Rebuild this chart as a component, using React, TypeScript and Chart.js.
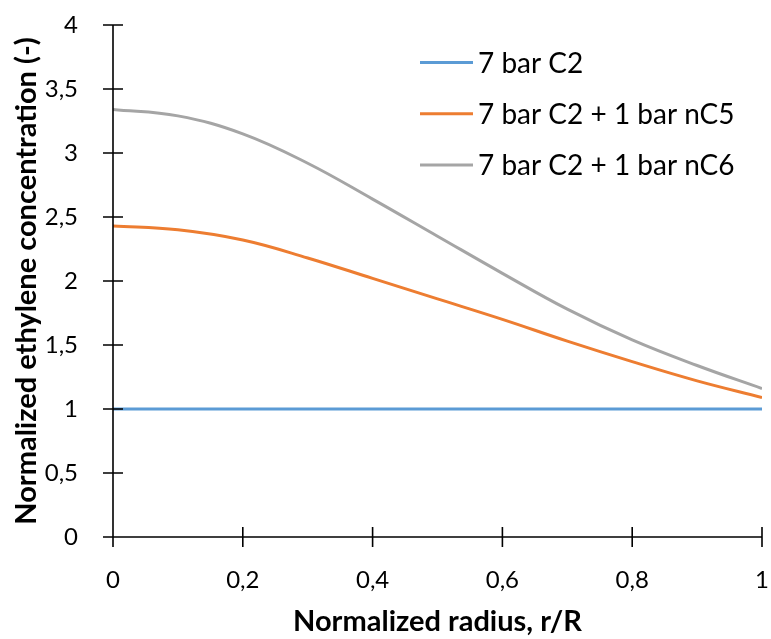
import React, { useEffect, useRef } from "react";
import { Chart, registerables } from "chart.js";

Chart.register(...registerables);

const radius = [0, 0.1, 0.2, 0.3, 0.4, 0.5, 0.6, 0.7, 0.8, 0.9, 1.0];
const c2 = [1, 1, 1, 1, 1, 1, 1, 1, 1, 1, 1];
const c2nc5 = [2.43, 2.40, 2.32, 2.18, 2.02, 1.86, 1.70, 1.53, 1.37, 1.22, 1.09];
const c2nc6 = [3.34, 3.29, 3.15, 2.92, 2.64, 2.35, 2.06, 1.78, 1.54, 1.34, 1.16];
const seriesLabels = ["7 bar C2", "7 bar C2 + 1 bar nC5", "7 bar C2 + 1 bar nC6"];
const seriesColors = ["#5B9BD5", "#ED7D31", "#A5A5A5"];
const xTitle = "Normalized radius, r/R";
const yTitle = "Normalized ethylene concentration (-)";

const FONT = "Lato, 'Open Sans', sans-serif";

const fmt = (v: number) => String(Number(Number(v).toFixed(1))).replace(".", ",");

const axisPlugin = {
  id: "crossAxes",
  afterDatasetsDraw(chart: any) {
    const ctx = chart.ctx;
    const xs = chart.scales.x;
    const ys = chart.scales.y;
    const area = chart.chartArea;
    ctx.save();
    ctx.strokeStyle = "#000";
    ctx.lineWidth = 1.6;
    ctx.beginPath();
    ctx.moveTo(area.left, area.top);
    ctx.lineTo(area.left, area.bottom);
    ctx.moveTo(area.left - 10, area.bottom);
    ctx.lineTo(area.right, area.bottom);
    ys.ticks.forEach((_t: any, i: number) => {
      const p = ys.getPixelForTick(i);
      ctx.moveTo(area.left - 10, p);
      ctx.lineTo(area.left + 10, p);
    });
    xs.ticks.forEach((_t: any, i: number) => {
      const p = xs.getPixelForTick(i);
      ctx.moveTo(p, area.bottom - 10);
      ctx.lineTo(p, area.bottom + 10);
    });
    ctx.stroke();
    ctx.restore();
  },
};

const legendPlugin = {
  id: "insideLegend",
  afterDraw(chart: any) {
    const ctx = chart.ctx;
    ctx.save();
    ctx.font = `28px ${FONT}`;
    ctx.textBaseline = "middle";
    ctx.fillStyle = "#000";
    chart.data.datasets.forEach((ds: any, i: number) => {
      const y = 62.5 + i * 51.3;
      ctx.strokeStyle = ds.borderColor;
      ctx.lineWidth = 3;
      ctx.beginPath();
      ctx.moveTo(420, y);
      ctx.lineTo(473, y);
      ctx.stroke();
      ctx.fillText(ds.label, 478, y + 1);
    });
    ctx.restore();
  },
};

export default function App() {
  const ref = useRef<HTMLCanvasElement | null>(null);
  useEffect(() => {
    if (!ref.current) return;
    const mk = (vals: number[]) => radius.map((x, i) => ({ x, y: vals[i] }));
    const all = [c2, c2nc5, c2nc6];
    const chart = new Chart(ref.current, {
      type: "line",
      data: {
        datasets: all.map((vals, i) => ({
          label: seriesLabels[i],
          data: mk(vals),
          borderColor: seriesColors[i],
          backgroundColor: seriesColors[i],
          borderWidth: 3,
          pointRadius: 0,
          tension: 0.4,
          fill: false,
        })),
      },
      options: {
        animation: false,
        responsive: false,
        maintainAspectRatio: false,
        layout: { padding: { top: 25, right: 9, left: 0, bottom: 0 } },
        plugins: { legend: { display: false }, tooltip: { enabled: false } },
        scales: {
          x: {
            type: "linear",
            min: 0,
            max: 1,
            grid: { display: false },
            border: { display: false },
            ticks: {
              stepSize: 0.2,
              color: "#000",
              padding: 21,
              maxRotation: 0,
              font: { family: FONT, size: 24 },
              callback: (v: any) => fmt(v),
            },
            title: {
              display: true,
              text: xTitle,
              color: "#000",
              font: { family: FONT, size: 29, weight: "bold" },
              padding: { top: 0, bottom: 0 },
            },
            afterFit: (s: any) => {
              s.height = 102;
              s.paddingLeft = 0;
              s.paddingRight = 0;
            },
          },
          y: {
            type: "linear",
            min: 0,
            max: 4,
            grid: { display: false },
            border: { display: false },
            ticks: {
              stepSize: 0.5,
              color: "#000",
              padding: 27,
              font: { family: FONT, size: 24 },
              callback: (v: any) => fmt(v),
            },
            title: {
              display: true,
              text: yTitle,
              color: "#000",
              font: { family: FONT, size: 29, weight: "bold" },
              padding: { top: 9, bottom: 0 },
            },
            afterFit: (s: any) => {
              s.width = 113;
              s.paddingTop = 0;
              s.paddingBottom = 0;
            },
          },
        },
      },
      plugins: [axisPlugin, legendPlugin],
    });
    return () => chart.destroy();
  }, []);
  return (
    <div style={{ position: "absolute", left: 0, top: 0, width: 771, height: 639, background: "#fff" }}>
      <canvas ref={ref} width={771} height={639} />
    </div>
  );
}
